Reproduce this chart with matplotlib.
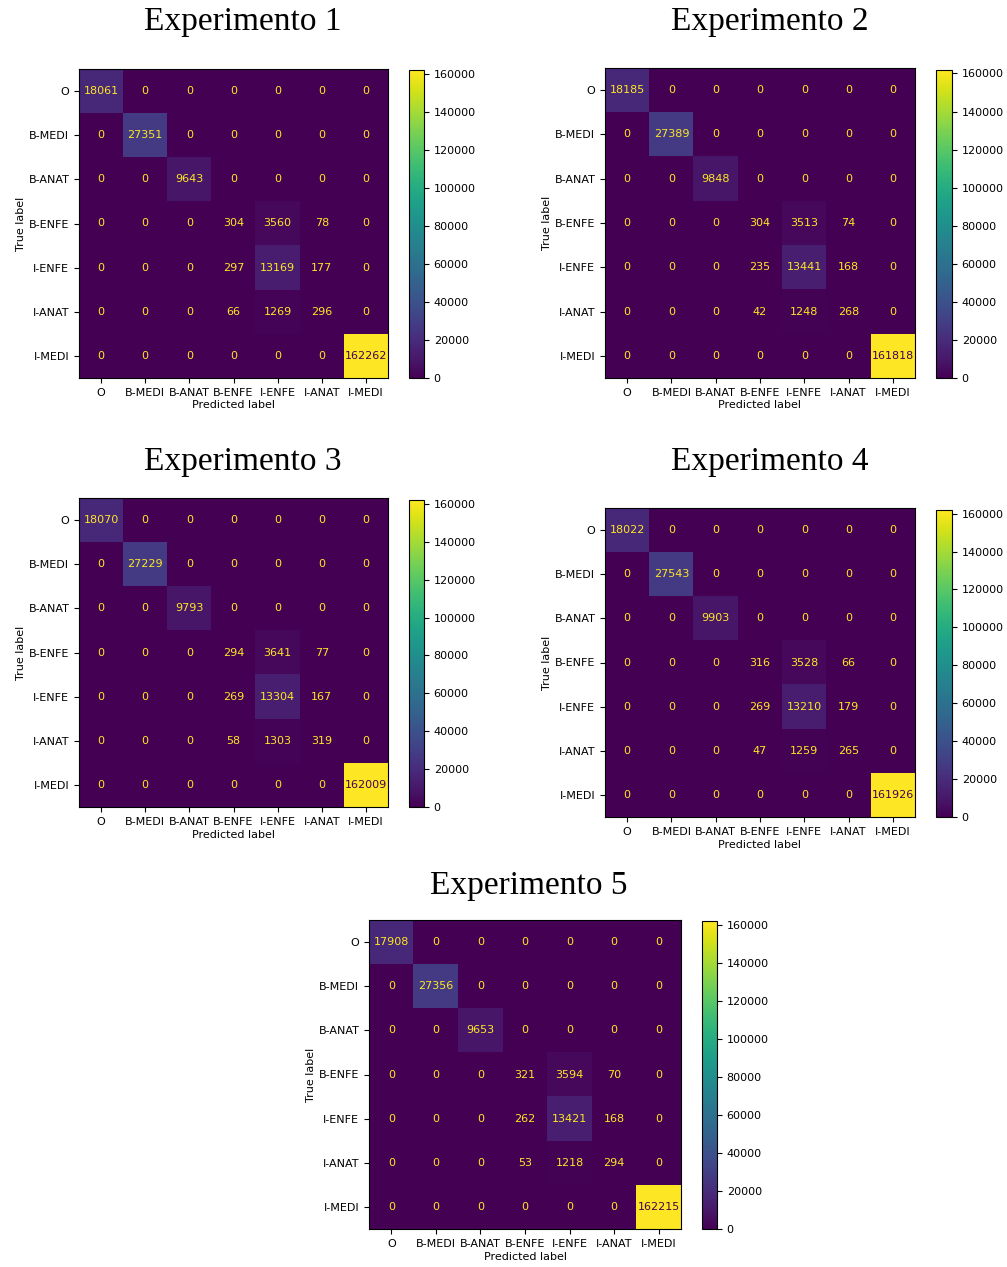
import numpy as np
import matplotlib
matplotlib.use("Agg")
import matplotlib.pyplot as plt

labels = ["O", "B-MEDI", "B-ANAT", "B-ENFE", "I-ENFE", "I-ANAT", "I-MEDI"]

exp1 = [[18061, 0, 0, 0, 0, 0, 0],
        [0, 27351, 0, 0, 0, 0, 0],
        [0, 0, 9643, 0, 0, 0, 0],
        [0, 0, 0, 304, 3560, 78, 0],
        [0, 0, 0, 297, 13169, 177, 0],
        [0, 0, 0, 66, 1269, 296, 0],
        [0, 0, 0, 0, 0, 0, 162262]]

exp2 = [[18185, 0, 0, 0, 0, 0, 0],
        [0, 27389, 0, 0, 0, 0, 0],
        [0, 0, 9848, 0, 0, 0, 0],
        [0, 0, 0, 304, 3513, 74, 0],
        [0, 0, 0, 235, 13441, 168, 0],
        [0, 0, 0, 42, 1248, 268, 0],
        [0, 0, 0, 0, 0, 0, 161818]]

exp3 = [[18070, 0, 0, 0, 0, 0, 0],
        [0, 27229, 0, 0, 0, 0, 0],
        [0, 0, 9793, 0, 0, 0, 0],
        [0, 0, 0, 294, 3641, 77, 0],
        [0, 0, 0, 269, 13304, 167, 0],
        [0, 0, 0, 58, 1303, 319, 0],
        [0, 0, 0, 0, 0, 0, 162009]]

exp4 = [[18022, 0, 0, 0, 0, 0, 0],
        [0, 27543, 0, 0, 0, 0, 0],
        [0, 0, 9903, 0, 0, 0, 0],
        [0, 0, 0, 316, 3528, 66, 0],
        [0, 0, 0, 269, 13210, 179, 0],
        [0, 0, 0, 47, 1259, 265, 0],
        [0, 0, 0, 0, 0, 0, 161926]]

exp5 = [[17908, 0, 0, 0, 0, 0, 0],
        [0, 27356, 0, 0, 0, 0, 0],
        [0, 0, 9653, 0, 0, 0, 0],
        [0, 0, 0, 321, 3594, 70, 0],
        [0, 0, 0, 262, 13421, 168, 0],
        [0, 0, 0, 53, 1218, 294, 0],
        [0, 0, 0, 0, 0, 0, 162215]]

titles = ["Experimento 1", "Experimento 2", "Experimento 3", "Experimento 4", "Experimento 5"]

W, H = 1007, 1267
fig = plt.figure(figsize=(W / 100, H / 100), dpi=100)


def box(l, t, r, b):
    return [l / W, 1 - b / H, (r - l) / W, (b - t) / H]


# pixel boxes: matrix axes, colorbar, title position
panels = [
    ((79, 69, 388, 378), (409, 70, 424, 378), (243, 22)),
    ((605, 68, 915, 378), (936, 70, 952, 378), (770, 22)),
    ((79, 498, 388, 807), (409, 500, 424, 807), (243, 462)),
    ((605, 508, 915, 817), (936, 510, 952, 817), (770, 462)),
    ((369, 920, 681, 1229), (702, 921, 717, 1229), (529, 886)),
]

cmap = plt.get_cmap("viridis")

for cm, title, (axb, cbb, tpos) in zip([exp1, exp2, exp3, exp4, exp5], titles, panels):
    cm = np.array(cm)
    ax = fig.add_axes(box(*axb))
    cax = fig.add_axes(box(*cbb))
    im = ax.imshow(cm, cmap=cmap, interpolation="nearest", aspect="auto")
    thresh = (cm.max() + cm.min()) / 2.0
    for i in range(cm.shape[0]):
        for j in range(cm.shape[1]):
            color = cmap(0) if cm[i, j] >= thresh else cmap(256)
            ax.text(j, i, format(cm[i, j], "d"), ha="center", va="center",
                    color=color, fontsize=8)
    ax.set_xticks(range(len(labels)))
    ax.set_yticks(range(len(labels)))
    ax.set_xticklabels(labels, fontsize=8)
    ax.set_yticklabels(labels, fontsize=8)
    ax.set_xlabel("Predicted label", fontsize=8, labelpad=2)
    ax.set_ylabel("True label", fontsize=8, labelpad=2)
    cb = fig.colorbar(im, cax=cax)
    cb.ax.tick_params(labelsize=8)
    cb.outline.set_linewidth(0.8)
    fig.text(tpos[0] / W, 1 - tpos[1] / H, title, ha="center", va="center",
             fontsize=24, family="Liberation Serif")

fig.savefig("out.png", dpi=100)
